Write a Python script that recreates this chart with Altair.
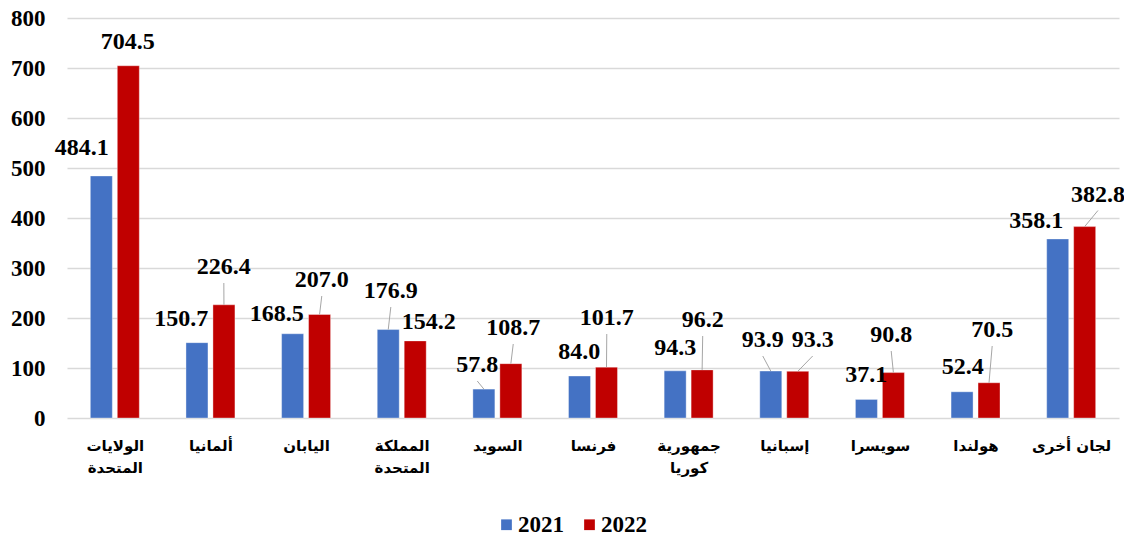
import json
import altair as alt
import pandas as pd

# ---- data ----
categories = ["الولايات\nالمتحدة", "ألمانيا", "اليابان", "المملكة\nالمتحدة", "السويد", "فرنسا",
              "جمهورية\nكوريا", "إسبانيا", "سويسرا", "هولندا", "لجان أخرى"]
years = ["2021", "2022"]
values_2021 = [484.1, 150.7, 168.5, 176.9, 57.8, 84.0, 94.3, 93.9, 37.1, 52.4, 358.1]
values_2022 = [704.5, 226.4, 207.0, 154.2, 108.7, 101.7, 96.2, 93.3, 90.8, 70.5, 382.8]

# label placement (offset from category centre in category units, label height in value units)
label_dx_2021 = [-0.345, -0.305, -0.306, -0.114, -0.210, -0.144, -0.140, -0.225, -0.143, -0.134, -0.366]
label_dx_2022 = [0.136, 0.140, 0.164, 0.283, 0.166, 0.144, 0.147, 0.297, 0.118, 0.174, 0.280]
label_y_2021 = [540, 198, 208, 254, 106, 132, 140, 156, 86, 103, 394]
label_y_2022 = [752, 302, 276, 192, 180, 200, 196, 156, 166, 176, 447]
leader_2021 = [0, 0, 0, 1, 1, 0, 0, 1, 0, 0, 0]
leader_2022 = [0, 1, 1, 0, 1, 1, 1, 1, 1, 1, 1]

colors = ["#4472C4", "#C00000"]
y_ticks = [0, 100, 200, 300, 400, 500, 600, 700, 800]

BAR_OFF = 0.141
BAR_HALF = 0.115

rows = []
for i, cat in enumerate(categories):
    for yr, vals, dxs, lys, leads, off in [
        ("2021", values_2021, label_dx_2021, label_y_2021, leader_2021, -BAR_OFF),
        ("2022", values_2022, label_dx_2022, label_y_2022, leader_2022, BAR_OFF),
    ]:
        c = i + off
        rows.append({
            "cat": cat, "year": yr, "value": vals[i],
            "center": c, "x0": c - BAR_HALF, "x1": c + BAR_HALF,
            "label": f"{vals[i]:.1f}",
            "lx": i + dxs[i], "ly": lys[i], "ly0": lys[i] - 32,
            "leader": leads[i],
        })
df = pd.DataFrame(rows)

label_arrays = "[" + ",".join(json.dumps(c.split("\n"), ensure_ascii=False) for c in categories) + "]"

x_scale = alt.Scale(domain=[-0.5, len(categories) - 0.5], nice=False, zero=False)
y_scale = alt.Scale(domain=[0, 800], nice=False)

x_axis = alt.Axis(values=list(range(len(categories))), labelExpr=label_arrays + "[datum.value]",
                  grid=False, ticks=False, domain=False, title=None,
                  labelFont="DejaVu Sans", labelFontWeight="bold", labelFontSize=15,
                  labelColor="#000000", labelLineHeight=22, labelPadding=20,
                  labelAngle=0, labelOverlap=False, labelBaseline="top")
y_axis = alt.Axis(values=y_ticks, grid=True, gridColor="#d9d9d9", gridWidth=1.5,
                  ticks=False, domain=False, title=None,
                  labelFont="Liberation Serif", labelFontWeight="bold", labelFontSize=23,
                  labelColor="#000000", labelPadding=22)

base = alt.Chart(df)

bars = base.mark_bar(stroke="#ffffff", strokeWidth=0.6, strokeOpacity=0.6).encode(
    x=alt.X("x0:Q", scale=x_scale, axis=x_axis, title=None),
    x2="x1",
    y=alt.Y("value:Q", scale=y_scale, axis=y_axis, title=None),
    y2=alt.datum(0),
    color=alt.Color("year:N", scale=alt.Scale(domain=years, range=colors),
                    legend=alt.Legend(orient="none", legendX=428, legendY=495,
                                      direction="horizontal", title=None,
                                      symbolType="square", symbolSize=115,
                                      symbolStrokeWidth=0,
                                      labelFont="Liberation Serif", labelFontSize=23,
                                      labelFontWeight="bold", labelColor="#000000",
                                      columnPadding=14, labelOffset=0, padding=0)),
)

leaders = base.transform_filter("datum.leader == 1").mark_rule(color="#a6a6a6", strokeWidth=1).encode(
    x=alt.X("lx:Q", scale=x_scale, axis=x_axis, title=None),
    x2="center",
    y=alt.Y("ly0:Q", scale=y_scale, axis=y_axis, title=None),
    y2="value",
)

labels = base.mark_text(font="Liberation Serif", fontWeight="bold", fontSize=24,
                        color="#000000", baseline="middle", align="center").encode(
    x=alt.X("lx:Q", scale=x_scale, axis=x_axis, title=None),
    y=alt.Y("ly:Q", scale=y_scale, axis=y_axis, title=None),
    text="label:N",
)

chart = alt.layer(bars, leaders, labels).properties(
    width=1052, height=400,
    autosize=alt.AutoSizeParams(type="none"),
    padding={"left": 59, "top": 10, "right": 5, "bottom": 125},
).configure_view(stroke=None)

chart.save("out.html", embed_options={"renderer": "svg", "actions": False})
